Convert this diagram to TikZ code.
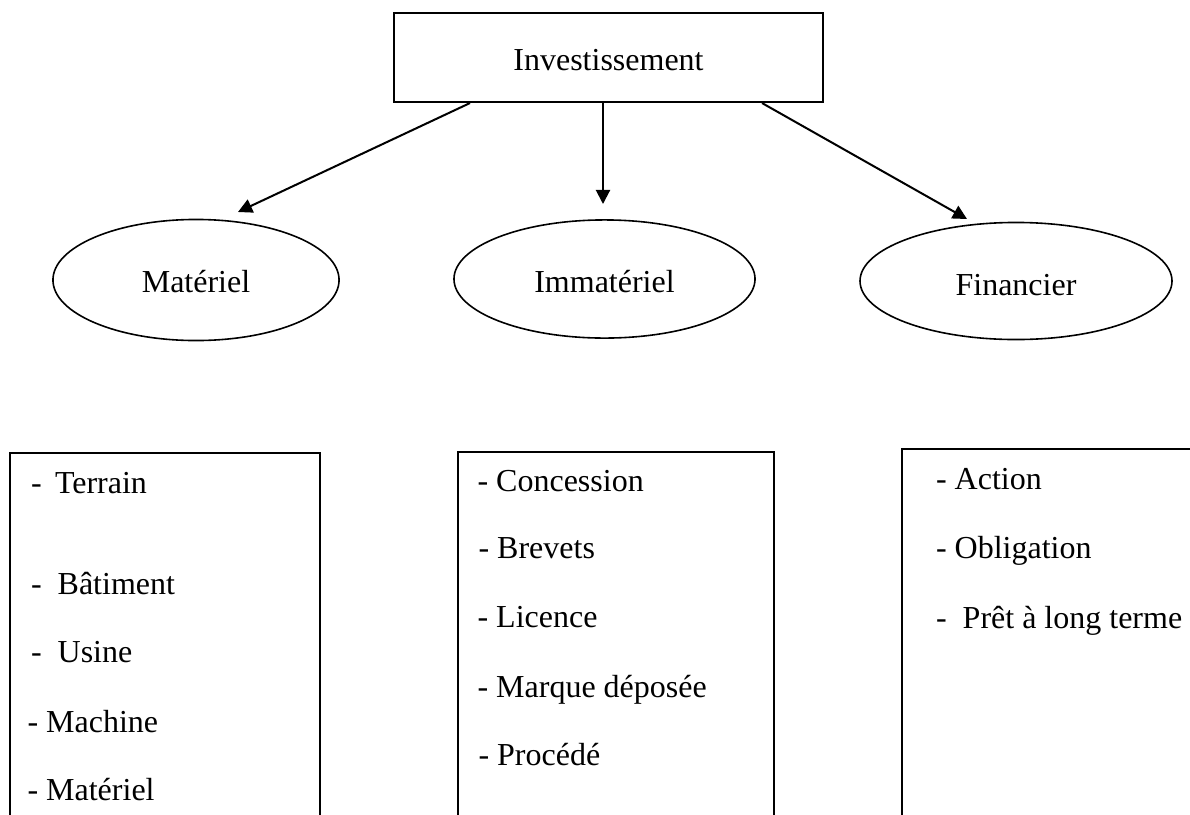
\documentclass[tikz,border=0pt]{standalone}
\usepackage{fontspec}
\setmainfont{Liberation Serif}
\usetikzlibrary{shapes.geometric,arrows.meta}

\begin{document}
\begin{tikzpicture}[x=0.375pt,y=-0.375pt,
  font=\fontsize{12}{14.4}\selectfont,
  titre/.style={draw, line width=0.75pt, minimum width=160.9pt, minimum height=33.4pt, inner sep=0pt, text height=10pt, text depth=0pt},
  classe/.style={draw, ellipse, line width=0.6pt, inner sep=0pt, text depth=0pt},
  liste/.style={draw, line width=0.7pt, anchor=north west, inner sep=0pt, minimum height=150pt},
  item/.style={anchor=base west, inner sep=0pt},
  fleche/.style={line width=0.75pt, -{Triangle[length=5.3pt,width=5.3pt]}}]
\useasboundingbox (0,0) rectangle (1190,814);
\clip (0,0) rectangle (1190,814);
\node[titre] (inv) at (608.5,57.5) {Investissement};
\node[classe, minimum width=107.3pt, minimum height=45.4pt, text height=9.5pt] (mat) at (196,280) {Matériel};
\node[classe, minimum width=112.9pt, minimum height=44.3pt, text height=10.3pt] (imm) at (604.5,279) {Immatériel};
\node[classe, minimum width=117pt, minimum height=43.9pt, text height=10.5pt] (fin) at (1016,281) {Financier};
\coordinate (pmat) at (238,212);
\coordinate (pimm) at (603,204);
\coordinate (pfin) at (967,219);
\draw[fleche] (inv.south -| 470,0) -- (pmat);
\draw[fleche] (inv.south -| pimm) -- (pimm);
\draw[fleche] (inv.south -| 762,0) -- (pfin);
\node[liste, minimum width=116.25pt] (lmat) at (9,452) {};
\node[liste, minimum width=118.5pt] (limm) at (457,451) {};
\node[liste, minimum width=150pt] (lfin) at (901,448) {};
\node[item] (terrain) at (30.5,493) {-~\,Terrain};
\node[item] (batiment) at (30.5,594) {-~~Bâtiment};
\node[item] (usine) at (30.5,662) {-~~Usine};
\node[item] (machine) at (27,732) {- Machine};
\node[item] (materiel) at (27,800) {- Matériel};
\node[item] (concession) at (477,491) {- Concession};
\node[item] (brevets) at (478,558) {- Brevets};
\node[item] (licence) at (477,627) {- Licence};
\node[item] (marque) at (477,697) {- Marque déposée};
\node[item] (procede) at (478,765) {- Procédé};
\node[item] (action) at (935.5,489) {- Action};
\node[item] (obligation) at (935.5,558) {- Obligation};
\node[item] (pret) at (935.5,628) {-~~Prêt à long terme};
\end{tikzpicture}
\end{document}
